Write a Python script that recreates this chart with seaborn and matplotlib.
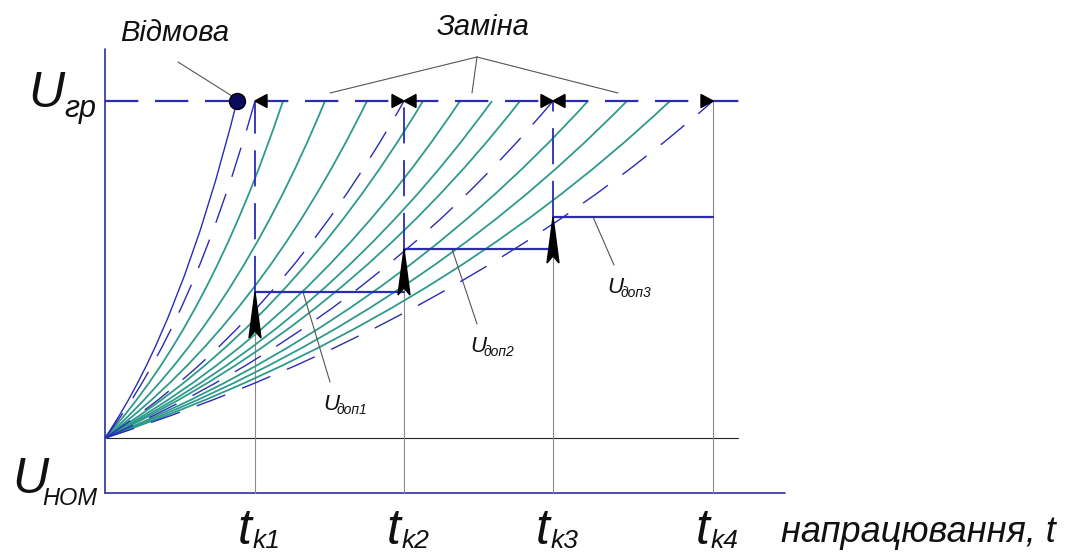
import numpy as np
import pandas as pd
import matplotlib
matplotlib.use("Agg")
import matplotlib.pyplot as plt
from matplotlib.path import Path
from matplotlib.patches import PathPatch, Polygon
import seaborn as sns

# Levels of the controlled parameter (drawing units)
u_nom = 0
u_gr = 337

# Control moments t_k1..t_k4
t_k = [150, 299, 448, 608]
t_k_names = ["k1", "k2", "k3", "k4"]

# Admissible levels U_доп1..U_доп3 (held between t_k[i] and t_k[i+1])
u_dop = [146, 189, 221]
u_dop_names = ["доп1", "доп2", "доп3"]

# Time at which each degradation curve reaches U_гр
t_fail = 132
t_dashed = [150, 299, 448, 608]
t_teal = [178, 220, 262, 318, 355, 387, 415, 483, 522, 565]

# Axis extents
t_axis_end = 680
t_line_end = 638
u_axis_top = 389
u_axis_bottom = -55

BLUE = "#2b2bb5"
AXIS_BLUE = "#2d2d9e"
TEAL = "#2e9a8c"
GRAY = "#8a8a8a"
LEADER = "#555555"

sns.set_style("white")
plt.rcParams["font.family"] = ["Noto Sans Condensed", "Liberation Sans Narrow",
                               "Liberation Sans", "DejaVu Sans"]
plt.rcParams["font.stretch"] = "condensed"
plt.rcParams["lines.scale_dashes"] = False

fig = plt.figure(figsize=(10.81, 5.55), dpi=100)
ax = fig.add_axes([0, 0, 1, 1])

# curve shape: quadratic bezier control point as share of (t_end, u_gr)
BEND_T, BEND_U = 0.58, 0.336


def wear_curve(t_end, **kw):
    verts = [(0, u_nom), (BEND_T * t_end, u_nom + BEND_U * (u_gr - u_nom)), (t_end, u_gr)]
    path = Path(verts, [Path.MOVETO, Path.CURVE3, Path.CURVE3])
    ax.add_patch(PathPatch(path, fill=False, **kw))


# admissible levels (drawn first with seaborn, axes fixed afterwards)
steps = pd.DataFrame({
    "t": [t_k[i + j] for i in range(3) for j in (0, 1)],
    "u": [u_dop[i] for i in range(3) for j in (0, 1)],
    "seg": [i for i in range(3) for j in (0, 1)],
})
sns.lineplot(data=steps, x="t", y="u", units="seg", estimator=None,
             color=BLUE, lw=1.6, ax=ax, legend=False, zorder=5)
ax.set_xlim(-105, 976)
ax.set_ylim(-117, 438)
ax.axis("off")

# axes of the diagram
ax.plot([0, 0], [u_axis_bottom, u_axis_top], color=AXIS_BLUE, lw=1.2)
ax.plot([0, t_axis_end], [u_axis_bottom, u_axis_bottom], color=AXIS_BLUE, lw=1.2)
ax.plot([0, t_line_end - 5], [u_nom, u_nom], color="#222222", lw=0.8)

# gray verticals from the admissible level down to the time axis
for i in range(3):
    ax.plot([t_k[i], t_k[i]], [u_axis_bottom, u_dop[i]], color=GRAY, lw=0.8)
ax.plot([t_k[3], t_k[3]], [u_axis_bottom, u_gr], color=GRAY, lw=0.8)

# family of degradation curves
for t_end in t_teal:
    wear_curve(t_end, edgecolor=TEAL, lw=1.3, zorder=2)
for t_end in t_dashed:
    wear_curve(t_end, edgecolor=BLUE, lw=1.0, linestyle=(0, (22, 13)), zorder=3)
wear_curve(t_fail, edgecolor=BLUE, lw=1.0, zorder=3)

# limit level
ax.plot([0, t_line_end], [u_gr, u_gr], color=BLUE, lw=1.6, linestyle=(0, (24, 12)), zorder=4)

# dashed verticals at the control moments
for i in range(3):
    ax.plot([t_k[i], t_k[i]], [u_dop[i], u_gr], color=BLUE, lw=1.3,
            linestyle=(0, (26, 12)), zorder=4)

# arrows up to each admissible level
for i in range(3):
    t, u = t_k[i], u_dop[i]
    ax.add_patch(Polygon([(t, u), (t - 6, u - 46), (t, u - 39), (t + 6, u - 46)],
                         closed=True, color="black", zorder=6))

# small triangles on the limit line
for i, t in enumerate(t_k):
    if i > 0:
        ax.add_patch(Polygon([(t, u_gr), (t - 12, u_gr + 6.5), (t - 12, u_gr - 6.5)],
                             closed=True, color="black", zorder=6))
    if i < 3:
        ax.add_patch(Polygon([(t, u_gr), (t + 12, u_gr + 6.5), (t + 12, u_gr - 6.5)],
                             closed=True, color="black", zorder=6))

# failure point
ax.plot([t_fail], [u_gr], "o", ms=11.5, color="#0b0b5e", mec="black", zorder=7)

# annotations
txt = dict(style="italic", color="#111111")
ax.text(70, 405, "Відмова", fontsize=21, ha="center", va="center", **txt)
ax.plot([73, t_fail - 5], [376, u_gr + 5], color=LEADER, lw=0.8)

ax.text(378, 411, "Заміна", fontsize=21, ha="center", va="center", **txt)
for xe in [225, 367, 513]:
    ax.plot([372, xe], [381, u_gr + 8], color=LEADER, lw=0.8)

label_pos = [(218, 28), (365, 86), (502, 145)]
leader_start = [198, 347, 488]
for i in range(3):
    lx, ly = label_pos[i]
    ax.plot([leader_start[i], lx + 7], [u_dop[i], ly + 28], color=LEADER, lw=0.8)
    ax.text(lx, ly, "U", fontsize=16, ha="left", va="baseline", **txt)
    ax.text(lx + 14, ly - 4, u_dop_names[i], fontsize=10, ha="left", va="baseline", **txt)

# level labels
ax.text(-77, 331, "U", fontsize=36, ha="left", va="baseline", **txt)
ax.text(-41, 321, "гр", fontsize=22, ha="left", va="baseline", **txt)
ax.text(-93, -55, "U", fontsize=36, ha="left", va="baseline", **txt)
ax.text(-63, -67, "НОМ", fontsize=17, ha="left", va="baseline", **txt)

# time labels
for t, name in zip(t_k, t_k_names):
    ax.text(t - 17, -106, "t", fontsize=36, ha="left", va="baseline", **txt)
    ax.text(t - 2, -110, name, fontsize=19, ha="left", va="baseline", **txt)
ax.text(676, -104, "напрацювання, t", fontsize=26, ha="left", va="baseline", **txt)

fig.savefig("out.png", dpi=100)
